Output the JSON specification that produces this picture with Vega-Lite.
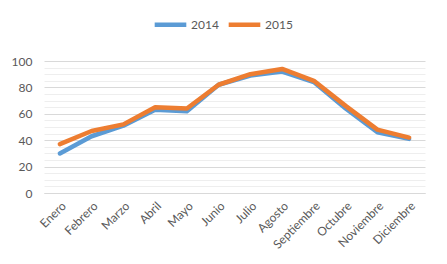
{
  "$schema": "https://vega.github.io/schema/vega-lite/v6.json",
  "width": 381,
  "height": 132,
  "autosize": "none",
  "padding": {"left": 44, "top": 61, "right": 22, "bottom": 71},
  "background": "white",
  "config": {
    "font": "Lato",
    "view": {"stroke": null},
    "axis": {"labelColor": "#595959", "labelFontSize": 12, "titleColor": "#595959"}
  },
  "data": {
    "values": [
      {"mes": "Enero", "serie": "2014", "valor": 30},
      {"mes": "Febrero", "serie": "2014", "valor": 43},
      {"mes": "Marzo", "serie": "2014", "valor": 51},
      {"mes": "Abril", "serie": "2014", "valor": 63},
      {"mes": "Mayo", "serie": "2014", "valor": 62},
      {"mes": "Junio", "serie": "2014", "valor": 82},
      {"mes": "Julio", "serie": "2014", "valor": 89},
      {"mes": "Agosto", "serie": "2014", "valor": 92},
      {"mes": "Septiembre", "serie": "2014", "valor": 84},
      {"mes": "Octubre", "serie": "2014", "valor": 64},
      {"mes": "Noviembre", "serie": "2014", "valor": 46},
      {"mes": "Diciembre", "serie": "2014", "valor": 41},
      {"mes": "Enero", "serie": "2015", "valor": 37},
      {"mes": "Febrero", "serie": "2015", "valor": 47},
      {"mes": "Marzo", "serie": "2015", "valor": 52},
      {"mes": "Abril", "serie": "2015", "valor": 65},
      {"mes": "Mayo", "serie": "2015", "valor": 64},
      {"mes": "Junio", "serie": "2015", "valor": 82},
      {"mes": "Julio", "serie": "2015", "valor": 90},
      {"mes": "Agosto", "serie": "2015", "valor": 94},
      {"mes": "Septiembre", "serie": "2015", "valor": 85},
      {"mes": "Octubre", "serie": "2015", "valor": 66},
      {"mes": "Noviembre", "serie": "2015", "valor": 48},
      {"mes": "Diciembre", "serie": "2015", "valor": 42}
    ]
  },
  "mark": {"type": "line", "strokeWidth": 4.5, "strokeCap": "round", "strokeJoin": "round"},
  "encoding": {
    "x": {
      "field": "mes",
      "type": "ordinal",
      "sort": ["Enero","Febrero","Marzo","Abril","Mayo","Junio","Julio","Agosto","Septiembre","Octubre","Noviembre","Diciembre"],
      "scale": {"type": "point", "padding": 0.5},
      "axis": {"title": null, "labelAngle": -45, "ticks": false, "domain": true, "domainColor": "#d9d9d9", "labelPadding": 7}
    },
    "y": {
      "field": "valor",
      "type": "quantitative",
      "scale": {"domain": [0, 100], "nice": false},
      "axis": {
        "title": null,
        "values": [0,5,10,15,20,25,30,35,40,45,50,55,60,65,70,75,80,85,90,95,100],
        "labelExpr": "datum.value % 20 === 0 ? datum.label : ''",
        "ticks": false,
        "domain": false,
        "labelPadding": 12,
        "gridColor": {"condition": {"test": "datum.value % 20 === 0", "value": "#d9d9d9"}, "value": "#eeeeee"},
        "gridWidth": 1
      }
    },
    "color": {
      "field": "serie",
      "type": "nominal",
      "scale": {"domain": ["2014", "2015"], "range": ["#5B9BD5", "#ED7D31"]},
      "legend": {
        "title": null,
        "orient": "none",
        "legendX": 108,
        "legendY": -55,
        "direction": "horizontal",
        "symbolType": "stroke",
        "symbolStrokeWidth": 4.5,
        "symbolSize": 1000,
        "labelFontSize": 12,
        "labelColor": "#595959",
        "labelOffset": 2,
        "columnPadding": 0
      }
    },
    "order": {"field": "serie"}
  }
}
